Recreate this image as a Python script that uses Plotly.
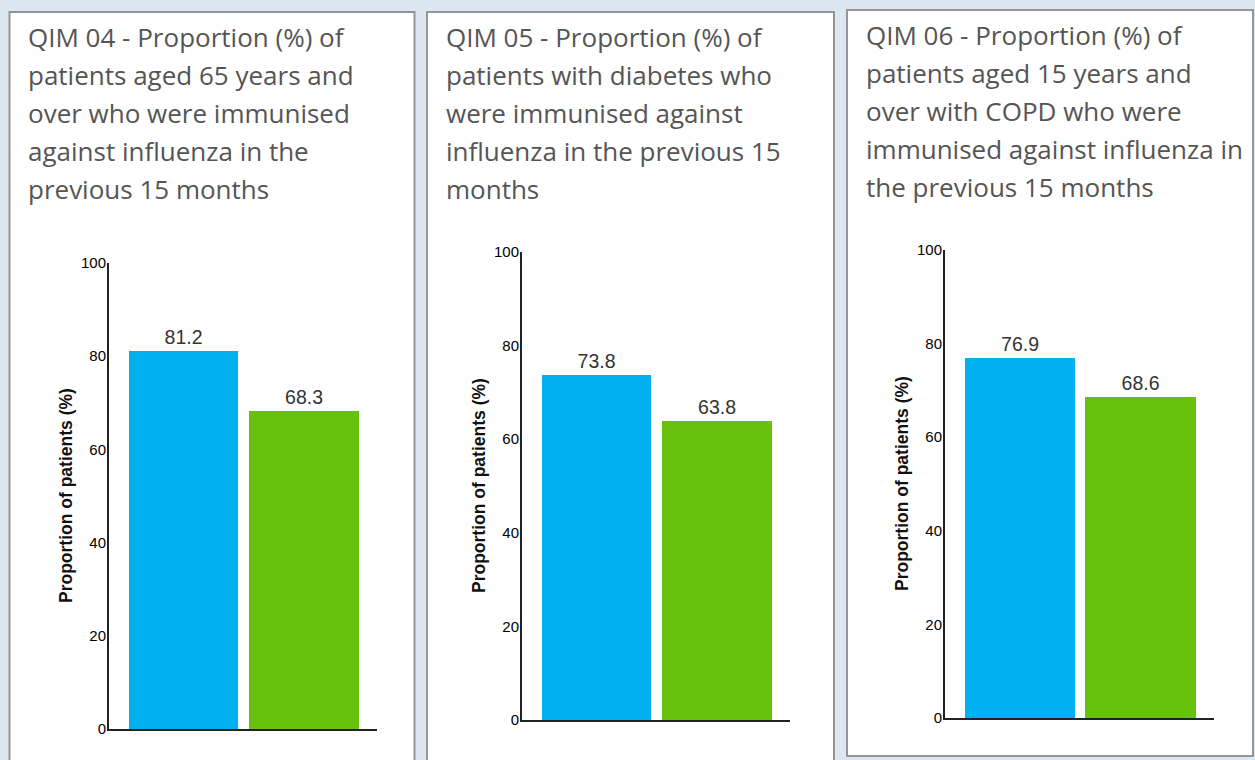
import plotly.graph_objects as go

# Indicator data: practice result (blue) vs comparison group (green)
indicators = ["QIM 04", "QIM 05", "QIM 06"]
title_lines = [
    ["QIM 04 - Proportion (%) of",
     "patients aged 65 years and",
     "over who were immunised",
     "against influenza in the",
     "previous 15 months"],
    ["QIM 05 - Proportion (%) of",
     "patients with diabetes who",
     "were immunised against",
     "influenza in the previous 15",
     "months"],
    ["QIM 06 - Proportion (%) of",
     "patients aged 15 years and",
     "over with COPD who were",
     "immunised against influenza in",
     "the previous 15 months"],
]
practice_values = [81.2, 73.8, 76.9]
comparison_values = [68.3, 63.8, 68.6]
y_ticks = [0, 20, 40, 60, 80, 100]
y_axis_title = "Proportion of patients (%)"

W, H = 1255, 760
BLUE = "#00b0f0"
GREEN = "#66c20c"


def fx(x):
    return x / W


def fy(y):
    return 1 - y / H


# Card outlines (pixels: left, top, right, bottom)
cards = [(9.5, 12, 414.5, 775), (427, 12, 834, 775), (847, 10, 1253, 756)]
# Plot areas (pixels: left, top, right, bottom)
plots = [(109, 263, 377, 729), (522, 252, 790, 720), (945, 250, 1214, 718)]
# Title text origin (left x, centre of first line y)
title_origin = [(26, 37), (444, 37), (864, 35)]
line_step = 38

fig = go.Figure()
shapes = []
annotations = []

for i in range(3):
    xa = "x" if i == 0 else f"x{i + 1}"
    ya = "y" if i == 0 else f"y{i + 1}"
    l, t, r, b = cards[i]
    shapes.append(dict(type="rect", xref="paper", yref="paper",
                       x0=fx(l), x1=fx(r), y0=fy(b), y1=fy(t),
                       line=dict(color="#959595", width=2),
                       fillcolor="white", layer="below"))

    fig.add_trace(go.Bar(
        x=[0, 1], y=[practice_values[i], comparison_values[i]],
        marker=dict(color=[BLUE, GREEN], line=dict(width=0)),
        width=0.915,
        text=[f"{practice_values[i]:.1f}", f"{comparison_values[i]:.1f}"],
        textposition="outside", cliponaxis=False,
        textfont=dict(family="Arial, Liberation Sans", size=19.5, color="#333333"),
        name=indicators[i], showlegend=False, hoverinfo="y",
        xaxis=xa, yaxis=ya,
    ))

    pl, pt, pr, pb = plots[i]
    axis_x = dict(domain=[fx(pl), fx(pr)], range=[-0.62, 1.61],
                  showline=True, linecolor="#222222", linewidth=2,
                  showticklabels=False, ticks="", showgrid=False,
                  zeroline=False, anchor=ya, fixedrange=True,
                  automargin=False)
    axis_y = dict(domain=[fy(pb), fy(pt)], range=[0, 100],
                  tickvals=y_ticks, ticks="", ticklen=0, showline=True,
                  linecolor="#222222", linewidth=2, showgrid=False,
                  zeroline=False, anchor=xa, fixedrange=True,
                  automargin=False, ticklabelstandoff=-2,
                  tickfont=dict(family="Arial, Liberation Sans", size=15,
                                color="#000000"))
    key = "" if i == 0 else str(i + 1)
    fig.layout["xaxis" + key] = axis_x
    fig.layout["yaxis" + key] = axis_y

    # Rotated y-axis title
    annotations.append(dict(
        text=f"<b>{y_axis_title}</b>", xref="paper", yref="paper",
        x=fx(pl - 43), y=fy((pt + pb) / 2), textangle=-90,
        showarrow=False, xanchor="center", yanchor="middle",
        font=dict(family="Arial, Liberation Sans", size=17.5, color="#111111"),
    ))

    # Card heading, one annotation per line
    ox, oy = title_origin[i]
    for k, line in enumerate(title_lines[i]):
        annotations.append(dict(
            text=line, xref="paper", yref="paper",
            x=fx(ox), y=fy(oy + k * line_step),
            xanchor="left", yanchor="middle", showarrow=False,
            font=dict(family="Open Sans, Noto Sans", size=26, color="#555555"),
        ))

fig.update_layout(
    width=W, height=H,
    margin=dict(l=0, r=0, t=0, b=0, pad=0, autoexpand=False),
    paper_bgcolor="#dde7f2", plot_bgcolor="rgba(0,0,0,0)",
    shapes=shapes, annotations=annotations,
    bargap=0, showlegend=False,
)

fig.write_html("out.html", config={"displayModeBar": False})
